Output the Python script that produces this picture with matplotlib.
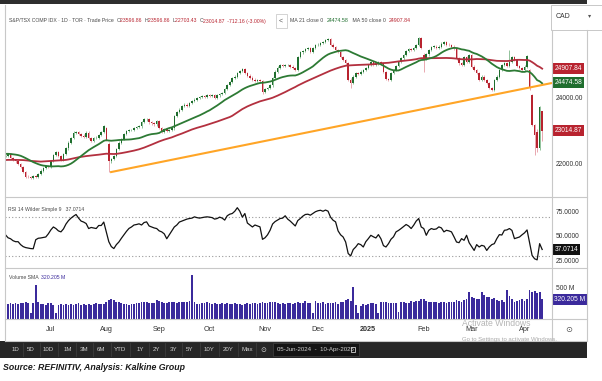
import numpy as np
import pandas as pd
import matplotlib
matplotlib.use("Agg")
import matplotlib.pyplot as plt
from matplotlib.patches import Rectangle

plt.rcParams['font.family'] = ['Liberation Sans', 'DejaVu Sans']

# daily closes, 05-Jun-2024 .. 10-Apr-2025 (one list per month)
close_jun = [22250, 22290, 22190, 22130, 22080, 22000, 21900, 21760, 21620, 21600,
             21580, 21630, 21610, 21700, 21800, 21880, 21950, 21920]
close_jul = [22100, 22280, 22350, 22250, 22130, 22300, 22470, 22650, 22780, 22950,
             22980, 22900, 22860, 22820, 22950, 22780, 22700, 22780, 22800, 22880,
             22980, 23150]
close_aug = [22720, 22080, 22150, 22250, 22450, 22650, 22750, 22900, 23000, 23030,
             23040, 23100, 23130, 23140, 23280, 23350, 23370, 23260, 23230, 23200,
             23300]
close_sep = [23100, 22980, 23050, 23000, 23020, 23080, 23450, 23580, 23650, 23750,
             23800, 23750, 23850, 23900, 23950, 24000, 24030, 24050, 24040, 24080]
close_oct = [24070, 24100, 24000, 24080, 24120, 24150, 24280, 24400, 24480, 24600,
             24650, 24750, 24820, 24880, 24750, 24680, 24620, 24560, 24520, 24550,
             24500, 24180]
close_nov = [24280, 24300, 24380, 24600, 24800, 24920, 25000, 24980, 24990, 25010,
             24950, 24900, 24860, 25250, 25380, 25430, 25480, 25500, 25400, 25520,
             25600]
close_dec = [25620, 25660, 25700, 25760, 25780, 25620, 25540, 25450, 25400, 25250,
             25150, 25050, 24560, 24450, 24650, 24750, 24720, 24800, 24850, 24900]
close_jan = [24990, 25080, 25000, 25050, 25080, 25050, 24780, 24580, 24560, 24750,
             24850, 24980, 25100, 25200, 25300, 25420, 25480, 25450, 25520, 25600,
             25810, 25530]
close_feb = [25200, 25320, 25450, 25550, 25560, 25520, 25560, 25650, 25700, 25620,
             25600, 25560, 25500, 25200, 25050, 25000, 25250, 25100, 25300]
close_mar = [24950, 24850, 24750, 24550, 24650, 24550, 24450, 24300, 24250, 24550,
             24650, 24850, 25000, 25050, 24980, 25100, 25250, 25150, 24980, 24900,
             24850]
close_apr = [24950, 25280, 24290, 23180, 22880, 22470, 23727.03, 23014.87]

# closes before the visible window (feed the moving averages)
warmup_closes = [22000, 22030, 22120, 22170, 22100, 22010, 22080, 21900, 21950, 22000,
                 22080, 21930, 22030, 21950, 21880, 21650, 21700, 21750, 21850, 21950,
                 22000, 22050, 21980, 22000, 22100, 22010, 21950, 22000, 22110, 22200,
                 22250, 22300, 22320, 22300, 22300, 22350, 22450, 22400, 22460, 22480,
                 22400, 22300, 22320, 22350, 22250, 22150, 22100, 22270, 22200, 22250]

# gap opens and long wicks
open_gaps = {40: 23080, 41: 22620, 166: 25300, 208: 24850, 209: 24090, 211: 22980,
             213: 23596.86}
high_marks = {166: 25350, 200: 25450, 211: 23050, 212: 23750, 213: 23596.86}
low_marks = {41: 21760, 102: 24130, 137: 24290, 166: 24800, 210: 22270, 211: 22350,
             212: 22420, 213: 22703.43}

# RSI 14 (Wilder)
rsi_a = [52, 49, 48, 46, 45, 45, 42, 40, 39, 38.5, 38, 37.8, 47, 48.5, 48.8, 49.3, 49.8,
         53, 57, 60, 58.4, 56, 55, 58, 63, 66.5, 69, 71, 72.7, 69, 66, 65, 63.5, 58.4,
         59.5, 59, 58.4, 61.5, 61.5, 65, 55, 45, 40, 38, 42, 44.7, 48.5, 52, 55.5, 58.5,
         60, 62, 62.5, 63.2, 62, 64.5, 65.2, 61, 60, 59, 58.4, 56, 55, 53, 48, 52, 56,
         60, 62, 65, 66, 67, 68, 68.6, 69, 70.3, 69.5, 69, 69.5, 70, 70.3, 70, 69.5, 68,
         68.6, 70, 69, 67, 71.4, 73, 73.7, 76, 79.6, 76, 70, 73.7, 64, 62, 60, 62, 61,
         60.1, 47.4]
rsi_b = [49, 52, 56.6, 63, 65.5, 67, 68.6, 69, 71.4, 68, 66, 63.5, 61, 66.5, 68.6, 71,
         72.7, 73, 72, 73.7, 75.5, 76.5, 77, 76, 77.2, 76.1, 70, 66.9, 65.2, 56, 52,
         49.8, 44.7, 33, 30.5, 37, 39.6, 43, 42, 39.6, 45, 48.1, 51.5, 50, 48.8, 52.2,
         48, 41, 39.6, 43, 47.5, 50, 55, 56.5, 58.4, 60.5, 62.5, 61, 58.4, 61.8, 66,
         68.6, 60, 58.4, 51.5, 56.6, 58.4, 57.5, 58, 60.1, 59, 55, 56.6, 56, 55, 50,
         44.7, 44, 48.1, 46.4, 51.5, 44, 40, 36.1, 42, 39.6, 41.3, 40.5, 36.1, 39.6, 42,
         43, 48.1, 52.2, 51.8, 56.6, 57, 58.4, 56.5, 48.1, 49, 49.8, 52, 54, 57, 44, 31,
         27.6, 26.5, 43, 37.0714]

# volume in millions
vol_jun = [240, 235, 250, 245, 255, 240, 250, 260, 270, 250, 90, 260, 550, 270, 240,
           235, 230, 250]
vol_jul = [260, 220, 85, 230, 245, 220, 235, 230, 240, 225, 235, 250, 230, 240, 225,
           245, 230, 240, 250, 235, 245, 240]
vol_aug = [270, 300, 320, 310, 280, 265, 250, 240, 235, 230, 240, 245, 260, 255, 265,
           270, 280, 260, 255, 250, 300]
vol_sep = [285, 275, 260, 250, 265, 280, 270, 260, 265, 280, 270, 275, 285, 715, 270,
           245, 240, 250, 260, 265]
vol_oct = [250, 240, 255, 245, 235, 250, 240, 255, 245, 240, 250, 235, 240, 230, 245,
           250, 240, 255, 260, 245, 250, 280]
vol_nov = [260, 255, 280, 270, 265, 250, 245, 260, 240, 255, 250, 245, 260, 270, 250,
           255, 290, 260, 250, 85, 290]
vol_dec = [260, 250, 265, 245, 255, 250, 260, 270, 245, 280, 265, 300, 320, 290, 520,
           230, 90, 200, 240, 230]
vol_jan = [240, 250, 255, 245, 90, 280, 265, 270, 260, 255, 250, 250, 100, 265, 270,
           260, 250, 285, 270, 290, 285, 320]
vol_feb = [330, 290, 280, 270, 275, 265, 260, 270, 280, 250, 275, 270, 265, 300, 290,
           280, 310, 330, 440]
vol_mar = [360, 340, 330, 320, 440, 380, 360, 350, 330, 340, 310, 290, 300, 280, 470,
           370, 330, 280, 290, 300, 320]
vol_apr = [290, 330, 470, 440, 450, 420, 430, 320]

month_labels = ['Jul', 'Aug', 'Sep', 'Oct', 'Nov', 'Dec', '2025', 'Feb', 'Mar', 'Apr']

months_c = [close_jun, close_jul, close_aug, close_sep, close_oct, close_nov,
            close_dec, close_jan, close_feb, close_mar, close_apr]
months_v = [vol_jun, vol_jul, vol_aug, vol_sep, vol_oct, vol_nov, vol_dec, vol_jan,
            vol_feb, vol_mar, vol_apr]
closes = np.array(sum(months_c, []), dtype=float)
volume = np.array(sum(months_v, []), dtype=float)
rsi = np.array(rsi_a + rsi_b, dtype=float)
n = len(closes)
idx = np.arange(n)
month_start = np.cumsum([len(m) for m in months_c])[:-1]

opens = np.r_[warmup_closes[-1], closes[:-1]]
for k, v in open_gaps.items():
    opens[k] = v
highs = np.maximum(opens, closes) + 35
lows = np.minimum(opens, closes) - 35
for k, v in high_marks.items():
    highs[k] = v
for k, v in low_marks.items():
    lows[k] = v

series = pd.Series(warmup_closes + list(closes))
ma21 = series.rolling(21).mean().values[-n:]
ma50 = series.rolling(50).mean().values[-n:]

GREEN, RED, BLUE = '#1f6e2e', '#b8232f', '#3b2a9c'
GRAY_T = '#4a4a4a'
GRID = '#c8c8c8'

W, H = 602, 381
fig = plt.figure(figsize=(W / 100, H / 100), dpi=100)
renderer = fig.canvas.get_renderer()


def add_ax(x0, y0, x1, y1, z):
    a = fig.add_axes([x0 / W, 1 - y1 / H, (x1 - x0) / W, (y1 - y0) / H], zorder=z)
    a.patch.set_alpha(0)
    for s in a.spines.values():
        s.set_visible(False)
    a.set_xticks([])
    a.set_yticks([])
    return a


def px_price(y):
    return 24000 + (98 - y) * 30.3


ov = add_ax(0, 0, W, H, 10)
ov.set_xlim(0, W)
ov.set_ylim(H, 0)


def fit_text(x0, x1, y, parts):
    # write coloured pieces one after another, sized to span x0..x1
    probe = [ov.text(0, 0, s, fontsize=10) for s, _ in parts]
    total = sum(t.get_window_extent(renderer).width for t in probe)
    for t in probe:
        t.remove()
    fs = 10 * (x1 - x0) / total
    x = x0
    for s, c in parts:
        t = ov.text(x, y, s, fontsize=fs, color=c, va='center')
        x += t.get_window_extent(renderer).width


XL = (-0.2, 216.9)
ax_p = add_ax(5, 5, 552, 196.5, 2)
ax_p.set_xlim(*XL)
ax_p.set_ylim(px_price(196.5), px_price(5))
ax_r = add_ax(5, 197, 552, 267.5, 2)
ax_r.set_xlim(*XL)
ax_r.set_ylim(50 - 30.5 / 0.975, 50 + 39.5 / 0.975)
ax_v = add_ax(5, 268, 552, 318.5, 2)
ax_v.set_xlim(*XL)
ax_v.set_ylim(0, 50.5 / 0.0606)

# candles
up_mask = closes >= opens
body_lo = np.minimum(opens, closes)
body_h = np.maximum(np.abs(closes - opens), 12)
cols = np.where(up_mask, GREEN, RED)
wick_cols = np.where(up_mask, '#7fb88a', '#e59aa3')
ax_p.vlines(idx, lows, highs, colors=wick_cols, lw=0.6, zorder=2)
ax_p.bar(idx, body_h, bottom=body_lo, width=0.62, color=cols, lw=0, zorder=3)
ax_p.plot(idx, ma50, color='#b3303f', lw=1.3, zorder=4)
ax_p.plot(idx, ma21, color='#2d7a34', lw=1.3, zorder=4)
ax_p.plot([41.5, XL[1]], [21750, 24455], color='#ffa526', lw=1.5, zorder=5,
          solid_capstyle='butt')

# RSI
ax_r.axhline(70, color='#9a9a9a', lw=0.8, ls=(0, (1, 2)))
ax_r.axhline(30, color='#9a9a9a', lw=0.8, ls=(0, (1, 2)))
ax_r.plot(idx, rsi, color='#111111', lw=0.9)

# volume
ax_v.bar(idx, volume, width=0.72, color=BLUE, lw=0)
ax_v.set_xticks(month_start)
ax_v.set_xticklabels(month_labels, fontsize=5.2, color='#333333')
ax_v.tick_params(axis='x', length=0, pad=5.5)
ax_v.get_xticklabels()[6].set_fontweight('bold')

# frame lines
for x in (5, 552, 587):
    ov.plot([x, x], [5 if x == 5 else 30, 341], color=GRID, lw=0.8)
for y in (196.8, 267.7, 318.6, 340.5):
    ov.plot([5, 587], [y, y], color=GRID, lw=0.8)
ov.add_patch(Rectangle((0, 0), 587, 4, color='#2e2e2e', lw=0))

# header legends
fit_text(9, 270, 21, [('S&P/TSX COMP IDX · 1D · TOR · Trade Price  ', GRAY_T),
                      ('O', GRAY_T), ('23596.86  ', RED), ('H', GRAY_T), ('23596.86  ', RED),
                      ('L', GRAY_T), ('22703.43  ', RED), ('C', GRAY_T),
                      ('23014.87  -712.16 (-3.00%)', RED)])
ov.add_patch(Rectangle((275.5, 14), 11, 14, fc='white', ec='#cccccc', lw=0.6))
ov.text(281, 21, '<', fontsize=5, color='#555555', ha='center', va='center')
fit_text(290, 410, 21, [('MA 21 close 0  ', GRAY_T), ('24474.58', GREEN),
                        ('   MA 50 close 0  ', GRAY_T), ('24907.84', RED)])
ov.add_patch(Rectangle((551, 5), 51, 25, fc='white', ec=GRID, lw=0.7))
ov.text(556, 16, 'CAD', fontsize=5, color='#333333', va='center')
ov.text(590, 16, '▾', fontsize=4.5, color='#555555', va='center', ha='center')

fit_text(8.5, 84, 209.5, [('RSI 14 Wilder Simple 9   37.0714', GRAY_T)])
fit_text(9, 66, 277.5, [('Volume SMA  ', GRAY_T), ('320.205 M', BLUE)])

# right scale labels and value boxes
tp = ax_p.get_yaxis_transform()
for v in (24000, 22000):
    ax_p.text(1.0075, v, f'{v:.2f}', transform=tp, fontsize=4.8, color='#333333',
              va='center', clip_on=False)
for v, c in [(24907.84, RED), (24474.58, GREEN), (23014.87, RED)]:
    ax_p.text(1.0045, v, f'{v:.2f}', transform=tp, fontsize=4.8, color='white', va='center',
              clip_on=False, bbox=dict(boxstyle='square,pad=0.3', fc=c, ec='none'))
tr = ax_r.get_yaxis_transform()
for v in (75, 50, 25):
    ax_r.text(1.0075, v, f'{v:.4f}', transform=tr, fontsize=4.8, color='#333333',
              va='center', clip_on=False)
ax_r.text(1.0045, rsi[-1], f'{rsi[-1]:.4f}', transform=tr, fontsize=4.8, color='white',
          va='center', clip_on=False,
          bbox=dict(boxstyle='square,pad=0.3', fc='#111111', ec='none'))
tv = ax_v.get_yaxis_transform()
ax_v.text(1.0075, 500, '500 M', transform=tv, fontsize=4.8, color='#333333', va='center',
          clip_on=False)
ax_v.text(1.0045, 320.205, '320.205 M', transform=tv, fontsize=4.8, color='white',
          va='center', clip_on=False,
          bbox=dict(boxstyle='square,pad=0.3', fc=BLUE, ec='none'))
ov.text(569, 330, '⊙', fontsize=6, color='#555555', ha='center', va='center',
        family=['DejaVu Sans'])

# bottom toolbar
ov.add_patch(Rectangle((0, 341), 587, 17, color='#262626', lw=0))
btns = ['1D', '5D', '10D', '1M', '3M', '6M', 'YTD', '1Y', '2Y', '3Y', '5Y', '10Y', '20Y', 'Max']
bx = [15, 30.7, 48.3, 68.3, 84.3, 101, 120, 140.7, 156.7, 174, 190, 209, 228, 247]
for b, x in zip(btns, bx):
    ov.text(x, 349.5, b, fontsize=4.4, color='#d0d0d0', ha='center', va='center')
for a, b in zip(bx[:-1], bx[1:]):
    ov.plot([(a + b) / 2] * 2, [343, 356], color='#3c3c3c', lw=0.6)
ov.plot([255.5] * 2, [343, 356], color='#3c3c3c', lw=0.6)
ov.text(263, 349.5, '⊙', fontsize=5, color='#d0d0d0', ha='center', va='center',
        family=['DejaVu Sans'])
ov.add_patch(Rectangle((273, 343), 86, 13, fc='#141414', ec='#3c3c3c', lw=0.6))
ov.text(277, 349.5, '05-Jun-2024  -  10-Apr-2025', fontsize=4.4, color='#d0d0d0', va='center')
ov.add_patch(Rectangle((350.5, 346.5), 4, 5, fc='none', ec='#d0d0d0', lw=0.6))

# screenshot watermark
ov.text(462, 324, 'Activate Windows', fontsize=6.2, color='#b5b5b5', va='center')
ov.text(462, 339, 'Go to Settings to activate Windows.', fontsize=4.3, color='#a8a8a8',
        va='center')

ov.text(3, 368, 'Source: REFINITIV, Analysis: Kalkine Group', fontsize=6.3, fontweight='bold',
        fontstyle='italic', color='#1a1a1a', va='center')

fig.savefig('out.png', dpi=100)
